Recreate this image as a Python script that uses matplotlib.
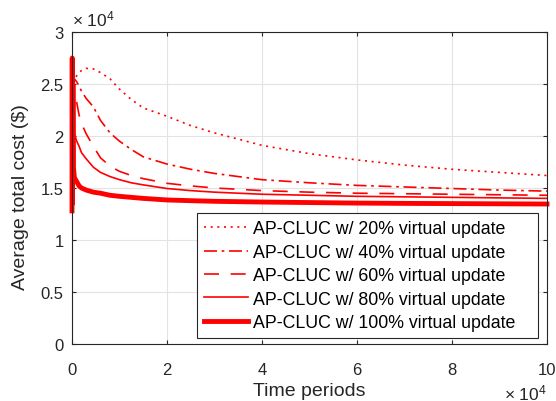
import numpy as np
import matplotlib
matplotlib.use('Agg')
import matplotlib.pyplot as plt
from matplotlib.ticker import FuncFormatter

plt.rcParams['font.family'] = ['Liberation Sans', 'DejaVu Sans']
plt.rcParams['mathtext.fontset'] = 'custom'
plt.rcParams['mathtext.rm'] = 'Liberation Sans'
plt.rcParams['mathtext.it'] = 'Liberation Sans'

# time periods (x 10^4) and average total cost (x 10^4)
t = [0, 0.005, 0.01, 0.02, 0.03, 0.05, 0.1, 0.15, 0.2, 0.3, 0.45, 0.6, 0.8, 1.0,
     1.25, 1.5, 2, 2.5, 3, 4, 5, 6, 7, 8, 9, 10]
cost_20 = [2.45, 2.48, 2.5, 2.52, 2.53, 2.55, 2.58, 2.61, 2.63, 2.65, 2.645, 2.61, 2.55, 2.45,
           2.35, 2.27, 2.19, 2.10, 2.03, 1.91, 1.83, 1.77, 1.72, 1.68, 1.65, 1.62]
cost_40 = [1.3, 2.45, 2.5, 2.53, 2.55, 2.55, 2.52, 2.48, 2.43, 2.36, 2.28, 2.15, 2.03, 1.95,
           1.87, 1.80, 1.73, 1.68, 1.64, 1.58, 1.55, 1.525, 1.51, 1.495, 1.48, 1.47]
cost_60 = [1.3, 2.4, 2.45, 2.45, 2.44, 2.42, 2.32, 2.2, 2.12, 2.02, 1.9, 1.79, 1.71, 1.66,
           1.62, 1.59, 1.545, 1.52, 1.50, 1.475, 1.46, 1.45, 1.445, 1.44, 1.435, 1.43]
cost_80 = [1.3, 2.5, 2.4, 2.25, 2.12, 2.02, 1.95, 1.9, 1.84, 1.78, 1.70, 1.65, 1.61, 1.58,
           1.55, 1.53, 1.495, 1.475, 1.46, 1.44, 1.43, 1.42, 1.415, 1.41, 1.405, 1.40]
cost_100 = [1.28, 2.75, 1.35, 2.5, 1.7, 1.6, 1.56, 1.52, 1.5, 1.48, 1.46, 1.45, 1.43, 1.42,
            1.41, 1.40, 1.385, 1.378, 1.372, 1.365, 1.36, 1.355, 1.352, 1.35, 1.348, 1.346]
labels = ['AP-CLUC w/ 20% virtual update', 'AP-CLUC w/ 40% virtual update',
          'AP-CLUC w/ 60% virtual update', 'AP-CLUC w/ 80% virtual update',
          'AP-CLUC w/ 100% virtual update']

fig = plt.figure(figsize=(5.56, 4.02), dpi=100)
ax = fig.add_axes([0.1295, 0.1418, 0.8543, 0.7761])

red = '#ff0000'
ax.plot(t, cost_20, color=red, lw=1.2, ls=(0, (1.2, 2.8)), label=labels[0], clip_on=False)
ax.plot(t, cost_40, color=red, lw=1.2, ls=(0, (7.8, 2.8, 1.6, 2.8)), label=labels[1], clip_on=False)
ax.plot(t, cost_60, color=red, lw=1.2, ls=(0, (9, 7)), label=labels[2], clip_on=False)
ax.plot(t, cost_80, color=red, lw=1.2, ls='-', label=labels[3], clip_on=False)
ax.plot(t, cost_100, color=red, lw=3.5, ls='-', label=labels[4], clip_on=False)

ax.set_xlim(0, 10)
ax.set_ylim(0, 3)
ax.set_xticks(np.arange(0, 11, 2))
ax.set_yticks(np.arange(0, 3.01, 0.5))
ax.yaxis.set_major_formatter(FuncFormatter(lambda v, p: '%g' % v))
ax.xaxis.set_major_formatter(FuncFormatter(lambda v, p: '%g' % v))

ax.grid(True, color='#e3e3e3', lw=0.8)
ax.set_axisbelow(True)
dark = '#262626'
for s in ax.spines.values():
    s.set_color(dark)
    s.set_linewidth(0.8)
ax.tick_params(direction='in', length=3.2, width=0.8, colors=dark, labelsize=12,
               top=True, right=True)
ax.tick_params(axis='x', pad=13)
ax.tick_params(axis='y', pad=6)

ax.set_xlabel('Time periods', fontsize=14, color=dark)
ax.set_ylabel('Average total cost (\\$)', fontsize=14, color=dark)
ax.xaxis.set_label_coords(0.5, -0.122)
ax.yaxis.set_label_coords(-0.09, 0.474)

ax.text(0.0, 1.01, '× 10$^{4}$', transform=ax.transAxes, ha='left', va='bottom',
        fontsize=12.5, color=dark)
ax.text(1.0, -0.178, '× 10$^{4}$', transform=ax.transAxes, ha='right', va='baseline',
        fontsize=12.5, color=dark)

leg = ax.legend(loc='lower left', bbox_to_anchor=(0.263, 0.019, 0.718, 0.4), mode='expand',
                borderaxespad=0, fontsize=12.8, handlelength=2.45, handletextpad=0.3,
                labelspacing=0.36, borderpad=0.4, fancybox=False, framealpha=1,
                edgecolor=dark)
leg.get_frame().set_linewidth(0.8)

fig.savefig('out.png', dpi=100)
